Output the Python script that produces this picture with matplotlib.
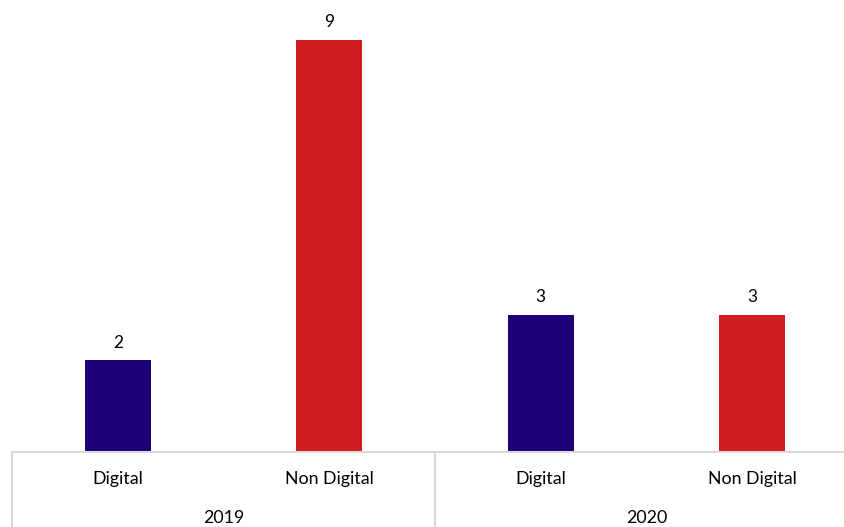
import matplotlib
matplotlib.use("Agg")
import matplotlib.pyplot as plt
from matplotlib.lines import Line2D
from matplotlib import transforms

# --- Dados ---
anos = ["2019", "2020"]
categorias = ["Digital", "Non Digital", "Digital", "Non Digital"]
valores = [2, 9, 3, 3]
cores = ["#1D0078", "#D21C1F", "#1D0078", "#D21C1F"]

plt.rcParams["font.family"] = ["Lato", "DejaVu Sans"]

W, H = 845, 527
fig = plt.figure(figsize=(W / 100, H / 100), dpi=100)

base = 452
left = 12
passo = 211.5
ax = fig.add_axes([left / W, (H - base) / H, 4 * passo / W, base / H])

x = list(range(len(valores)))
barras = ax.bar(x, valores, width=0.31, color=cores)
for xi, v in zip(x, valores):
    ax.annotate(str(v), (xi, v), xytext=(0, 7), textcoords="offset points",
                ha="center", va="bottom", fontsize=12.5, color="#000000")

ax.set_xlim(-0.5, 3.5)
ax.set_ylim(0, base / 45.8)
for s in ["top", "right", "left"]:
    ax.spines[s].set_visible(False)
ax.spines["bottom"].set_color("#D9D9D9")
ax.spines["bottom"].set_linewidth(1.5)
ax.set_yticks([])
ax.set_xticks([])

# rótulos das categorias e anos
trans = transforms.blended_transform_factory(ax.transData, fig.transFigure)
for xi, c in zip(x, categorias):
    ax.text(xi, 1 - 479 / H, c, transform=trans, ha="center", va="center",
            fontsize=12.8, clip_on=False)
for i, ano in enumerate(anos):
    ax.text(2 * i + 0.5, 1 - 518 / H, ano, transform=trans, ha="center",
            va="center", fontsize=12.8, clip_on=False)

# separadores verticais
for xs in [-0.5, 1.5, 3.5]:
    ax.add_line(Line2D([xs, xs], [1 - base / H, 0], transform=trans,
                       color="#D9D9D9", linewidth=1.5, clip_on=False))

fig.savefig("out.png", dpi=100)
